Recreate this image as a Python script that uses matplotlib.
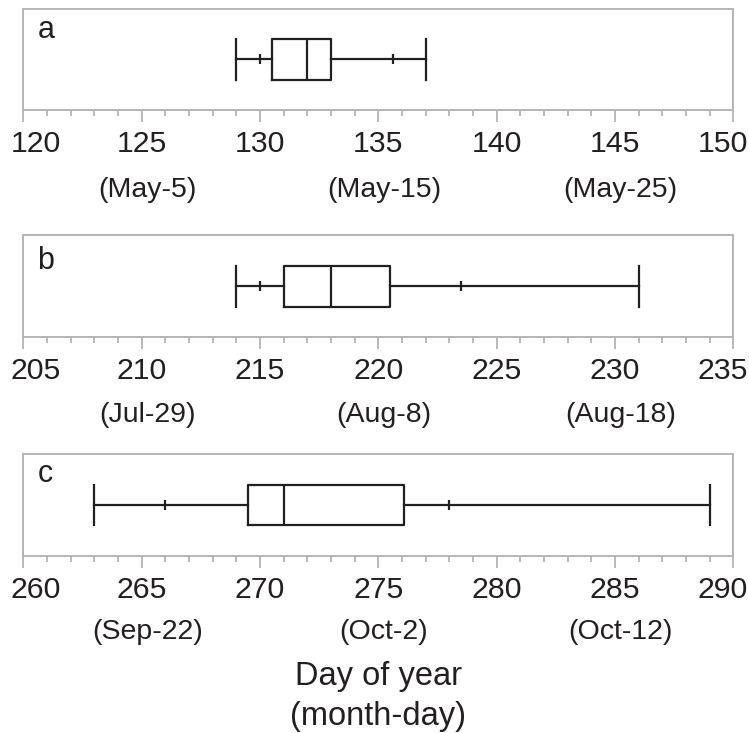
import matplotlib
matplotlib.use("Agg")
import matplotlib.pyplot as plt
from matplotlib.ticker import MultipleLocator
import matplotlib.transforms as mtransforms

plt.rcParams['font.family'] = ['Liberation Sans', 'DejaVu Sans']

# ================== DATA ==================
PANEL_LABELS = ["a", "b", "c"]
XLIMS = [(120, 150), (205, 235), (260, 290)]

# whisker min / 10th pct / q1 / median / q3 / 90th pct / whisker max
MINS = [129, 214, 263]
P10 = [130, 215, 266]
Q1 = [130.5, 216, 269.5]
MEDIANS = [132, 218, 271]
Q3 = [133, 220.5, 276.1]
P90 = [135.6, 223.5, 278]
MAXS = [137, 231, 289]

DATE_POS = [[125, 135, 145], [210, 220, 230], [265, 275, 285]]
DATE_LABELS = [["(May-5)", "(May-15)", "(May-25)"],
               ["(Jul-29)", "(Aug-8)", "(Aug-18)"],
               ["(Sep-22)", "(Oct-2)", "(Oct-12)"]]

# ================== LAYOUT ==================
FRAME_COLOR = "#b4b4b4"
LINE_COLOR = "#231f20"
TEXT_COLOR = "#231f20"
LW = 1.6
BOX_W = 0.4

axes_rects = [
    [0.0311, 0.850, 0.948, 0.138],
    [0.0311, 0.540, 0.948, 0.139],
    [0.0311, 0.2415, 0.948, 0.139],
]
LETTER_Y = [0.713, 0.673, 0.728]   # baseline of panel letter, axes fraction
DATE_Y = [-0.858, -0.83, -0.81]    # baseline of date labels, axes fraction

fig = plt.figure(figsize=(7.49, 7.33), dpi=100)
all_axes = []

for i, rect in enumerate(axes_rects):
    ax = fig.add_axes(rect)
    all_axes.append(ax)
    stats = [{
        "whislo": MINS[i], "q1": Q1[i], "med": MEDIANS[i],
        "q3": Q3[i], "whishi": MAXS[i], "fliers": [],
    }]
    line_kw = dict(color=LINE_COLOR, linewidth=LW)
    ax.bxp(stats, positions=[0.5], widths=BOX_W, capwidths=BOX_W,
           orientation="horizontal", showfliers=False,
           boxprops=line_kw, whiskerprops=line_kw, capprops=line_kw,
           medianprops=line_kw)
    # 10th / 90th percentile marks
    ax.plot([P10[i], P90[i]], [0.5, 0.5], linestyle="None", marker="|",
            markersize=7.5, markeredgewidth=LW, color=LINE_COLOR)

    ax.set_xlim(*XLIMS[i])
    ax.set_ylim(0, 1)
    ax.set_yticks([])
    ax.xaxis.set_major_locator(MultipleLocator(5))
    ax.xaxis.set_minor_locator(MultipleLocator(1))
    ax.tick_params(axis="x", which="major", length=8.5, width=1.3,
                   color=FRAME_COLOR, labelsize=21.8, pad=6,
                   labelcolor=TEXT_COLOR)
    ax.tick_params(axis="x", which="minor", length=4.5, width=1.3,
                   color=FRAME_COLOR)
    for sp in ax.spines.values():
        sp.set_color(FRAME_COLOR)
        sp.set_linewidth(1.4)

    ax.text(0.02, LETTER_Y[i], PANEL_LABELS[i], transform=ax.transAxes,
            fontsize=22, va="baseline", ha="left", color=TEXT_COLOR)

    trans = mtransforms.blended_transform_factory(ax.transData, ax.transAxes)
    trans = trans + mtransforms.ScaledTranslation(4 / 72, 0, fig.dpi_scale_trans)
    for xp, lab in zip(DATE_POS[i], DATE_LABELS[i]):
        ax.text(xp, DATE_Y[i], lab, transform=trans, ha="center",
                va="baseline", fontsize=20.5, color=TEXT_COLOR)

fig.text(0.505, 0.0655, "Day of year", ha="center", va="baseline",
         fontsize=23.5, color=TEXT_COLOR)
fig.text(0.505, 0.0109, "(month-day)", ha="center", va="baseline",
         fontsize=23.5, color=TEXT_COLOR)

# nudge the end tick labels inward so they stay inside the figure
fig.canvas.draw()
for ax in all_axes:
    ticks = ax.xaxis.get_major_ticks()
    locs = ax.xaxis.get_majorticklocs()
    lo, hi = ax.get_xlim()
    for tick, loc in zip(ticks, locs):
        if abs(loc - lo) < 1e-6:
            dx = 9 / 72
        elif abs(loc - hi) < 1e-6:
            dx = -7.5 / 72
        else:
            continue
        lab = tick.label1
        lab.set_transform(lab.get_transform()
                          + mtransforms.ScaledTranslation(dx, 0, fig.dpi_scale_trans))

fig.savefig("out.png", dpi=100)
